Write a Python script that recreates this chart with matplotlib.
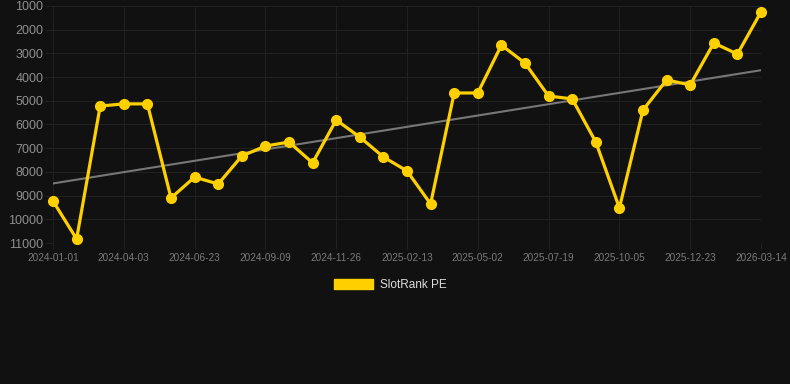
import matplotlib
matplotlib.use("Agg")
import matplotlib.pyplot as plt
import numpy as np

plt.rcParams['font.family'] = ['Liberation Sans', 'DejaVu Sans']

tick_labels = ["2024-01-01", "2024-04-03", "2024-06-23", "2024-09-09", "2024-11-26",
               "2025-02-13", "2025-05-02", "2025-07-19", "2025-10-05", "2025-12-23",
               "2026-03-14"]
rank_values = [9230, 10830, 5220, 5130, 5130, 9100, 8220, 8510, 7330, 6910,
               6740, 7620, 5810, 6530, 7370, 7960, 9350, 4670, 4670, 2650,
               3410, 4800, 4920, 6740, 9520, 5390, 4120, 4330, 2560, 3030, 1250]
y_ticks = [1000, 2000, 3000, 4000, 5000, 6000, 7000, 8000, 9000, 10000, 11000]
series_name = "SlotRank PE"

bg = "#111111"
gold = "#FFD000"
grid_c = "#212121"

fig = plt.figure(figsize=(7.9, 3.84), dpi=100, facecolor=bg)
ax = fig.add_axes([53/790, 1 - 243/384, (761-53)/790, (243-6)/384])
ax.set_facecolor(bg)

x = np.arange(len(rank_values))
ax.plot(x, rank_values, color=gold, lw=2.3, marker="o", ms=7,
        markerfacecolor=gold, markeredgecolor=gold, zorder=3, label=series_name,
        clip_on=False)

coef = np.polyfit(x, rank_values, 1)
ax.plot([x[0], x[-1]], np.polyval(coef, [x[0], x[-1]]), color="#777777", lw=1.5, zorder=2)

ax.set_xlim(0, len(rank_values) - 1)
ax.set_ylim(11000, 1000)
ax.set_yticks(y_ticks)
ax.set_yticklabels([str(v) for v in y_ticks], fontsize=9, color="#8f8f8f")
tick_pos = np.arange(0, len(rank_values), 3)
ax.set_xticks(tick_pos)
ax.set_xticklabels(tick_labels, fontsize=7.2, color="#7a7a7a")
ax.tick_params(axis="y", length=5.5, color=grid_c, pad=1.5)
ax.tick_params(axis="x", length=4, color=grid_c, pad=3)
ax.grid(True, color=grid_c, lw=0.8)
ax.set_axisbelow(True)
for s in ax.spines.values():
    s.set_visible(False)

handle = plt.Rectangle((0, 0), 1, 1, color=gold)
fig.legend([handle], [series_name], loc="center", bbox_to_anchor=(390/790, 1 - 285/384),
           frameon=False, fontsize=8.5, labelcolor="#dddddd", handlelength=3.3,
           handleheight=1.0, handletextpad=0.6)

fig.savefig("out.png", dpi=100, facecolor=bg)
